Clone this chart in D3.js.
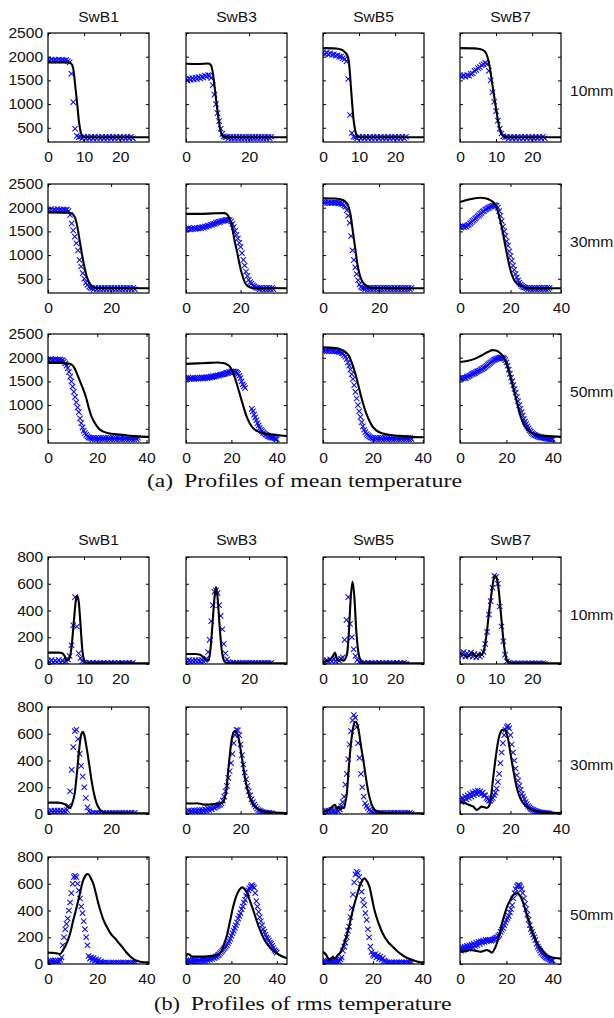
<!DOCTYPE html>
<html>
<head>
<meta charset="utf-8">
<script src="https://cdn.jsdelivr.net/npm/d3@7"></script>
<style>
  html, body { margin: 0; padding: 0; background: #fff; }
  svg { display: block; }
</style>
</head>
<body>
<svg id="fig" width="614" height="1018"></svg>
<script>
// ---- categories and labels ----
const burners = ["SwB1", "SwB3", "SwB5", "SwB7"];
const heights = ["10mm", "30mm", "50mm"];
const meanYTicks = [500, 1000, 1500, 2000, 2500];
const rmsYTicks = [0, 200, 400, 600, 800];
const meanYRange = [200, 2500];
const rmsYRange = [0, 800];
// radial extent of each panel, rows = heights, columns = burners
const radialMax = [[28, 32, 28, 28], [32, 37, 36, 40], [41, 44.5, 40.5, 43.5]];
const radialTicks = [
  [[0, 10, 20], [0, 20], [0, 10, 20], [0, 10, 20]],
  [[0, 20], [0, 20], [0, 20], [0, 20, 40]],
  [[0, 20, 40], [0, 20, 40], [0, 20, 40], [0, 20, 40]]
];

// ---- measurement stations (radial position, mm) ----
const probeX = [0,0.5,1,1.5,2,2.5,3,3.5,4,4.5,5,5.5,6,6.5,7,7.5,8,8.5,9,9.5,
  10,10.5,11,11.5,12,12.5,13,13.5,14,14.5,15,15.5,16,16.5,17,17.5,18,18.5,19,19.5,
  20,20.5,21,21.5,22,22.5,23,23.5,24,24.5,25,25.5,26,26.5,27,27.5,28,28.5,29,29.5,
  30,30.5,31,31.5,32,32.5,33,33.5,34,34.5,35,35.5,36,36.5,37,37.5,38,38.5,39,39.5,40];

// ---- measured mean temperature (K) at probeX ----
const meanMeas10 = [
  [1940,1920,1940,1920,1935,1920,1940,1925,1935,1920,1930,1910,1880,1640,1040,480,330,300,310,280,
   310,280,310,280,310,280,310,280,310,280,310,280,310,280,310,280,310,280,310,280,
   310,280,310,280,310,280,310,280],
  [1530,1500,1540,1510,1550,1520,1560,1530,1570,1540,1580,1560,1600,1580,1610,1600,1550,1400,1200,1000,
   810,640,480,370,320,300,310,280,310,280,310,280,310,280,310,280,310,280,310,280,
   310,280,310,280,310,280,310,280,310,280,310,280,310,280,310],
  [2090,2060,2080,2050,2070,2040,2050,2020,2030,2000,2000,1970,1950,1900,1530,770,390,310,300,280,
   310,280,310,280,310,280,310,280,310,280,310,280,310,280,310,280,310,280,310,280,
   310,280,310,280,310,280,310],
  [1610,1580,1600,1580,1610,1600,1640,1650,1700,1720,1760,1780,1820,1840,1870,1850,1700,1500,1250,1050,
   850,650,480,380,320,300,310,280,310,280,310,280,310,280,310,280,310,280,310,280,
   310,280,310,280,310,280,310,280]
];
const meanMeas30 = [
  [1960,1940,1970,1940,1960,1940,1970,1950,1960,1940,1960,1950,1960,1930,1850,1670,1520,1390,1250,1100,
   900,760,620,500,420,370,330,310,300,280,310,280,310,280,310,280,310,280,310,280,
   310,280,310,280,310,280,310,280,310,280,310,280,310,280,310,280],
  [1560,1540,1570,1540,1560,1550,1570,1550,1570,1560,1580,1570,1590,1580,1600,1600,1620,1620,1640,1640,
   1660,1660,1680,1690,1700,1700,1720,1720,1730,1740,1740,1745,1740,1710,1660,1590,1510,1430,1350,1260,
   1170,1040,900,780,650,560,480,430,400,360,340,320,310,300,280,310,280,310,280,310,
   280,310,280,310,280],
  [2120,2100,2120,2100,2120,2100,2110,2100,2110,2100,2110,2090,2100,2080,2080,2050,2020,1950,1830,1680,
   1400,1100,900,740,600,470,380,330,310,300,280,310,280,310,280,310,280,310,280,310,
   280,310,280,310,280,310,280,310,280,310,280,310,280,310,280,310,280,310,280,310,
   280,310,280,310],
  [1600,1580,1610,1590,1610,1600,1630,1640,1670,1690,1720,1740,1770,1790,1820,1840,1870,1890,1920,1930,
   1960,1970,1990,2000,2020,2030,2040,2050,2050,2040,2000,1930,1830,1720,1600,1500,1400,1290,1200,1080,
   980,880,780,690,600,530,470,420,380,350,330,320,310,300,280,310,280,310,280,310,
   280,310,280,310,280,310,280,310,280,310,280,310]
];
const meanMeas50 = [
  [1960,1940,1970,1950,1960,1940,1970,1950,1960,1950,1960,1940,1950,1920,1880,1830,1780,1700,1600,1500,
   1390,1280,1170,1060,950,850,720,620,530,460,410,370,340,320,310,300,280,310,280,310,
   280,310,280,310,280,310,280,310,280,310,280,310,280,310,280,310,280,310,280,310,
   280,310,280,310,280,310,280,310,280,310,280,310,280,310],
  [1570,1550,1580,1550,1570,1550,1580,1550,1570,1560,1580,1560,1580,1560,1580,1560,1580,1570,1590,1570,
   1590,1580,1600,1590,1610,1600,1620,1610,1630,1620,1640,1640,1650,1650,1660,1670,1680,1680,1700,1690,
   1710,1700,1710,1700,1700,1680,1660,1620,1570,1500,1440,1400,1360,null,null,null,null,null,920,870,
   800,740,680,620,570,520,480,450,420,400,380,370,350,340,330,320,310,310,300,290,
   280],
  [2160,2140,2160,2140,2160,2140,2160,2140,2150,2140,2150,2130,2140,2120,2120,2100,2090,2060,2020,1970,
   1900,1830,1750,1650,1550,1420,1280,1140,1000,870,750,640,550,480,430,390,360,340,320,310,
   300,280,310,280,310,280,310,280,310,280,310,280,310,280,310,280,310,280,310,280,
   310,280,310,280,310,280,310,280,310,280,310,280],
  [1570,1550,1580,1560,1580,1570,1600,1600,1620,1630,1650,1660,1670,1680,1700,1710,1720,1730,1750,1760,
   1780,1790,1810,1830,1850,1870,1890,1910,1930,1950,1960,1970,1980,1990,2000,2000,2000,1990,1980,1950,
   1900,1830,1750,1660,1580,1500,1420,1340,1260,1170,1080,1000,920,850,780,710,650,600,550,510,
   470,440,410,390,370,360,350,340,330,320,320,310,310,300,300,290,290,280,280,290,
   280]
];

// ---- measured rms temperature (K) at probeX ----
const rmsMeas10 = [
  [25,15,30,10,25,15,30,10,25,15,20,35,60,140,290,500,280,80,45,20,
   10,8,2,8,2,8,2,8,2,8,2,8,2,8,2,8,2,8,2,8,
   2,8,2,8,2,8,2,8],
  [25,15,30,12,28,15,30,15,28,18,30,20,30,40,90,180,320,440,540,550,
   530,440,360,260,150,80,35,15,8,2,8,2,8,2,8,2,8,2,8,2,
   8,2,8,2,8,2,8,2,8,2,8,2,8,2,8],
  [25,10,30,15,35,20,40,20,35,25,40,50,180,330,500,300,200,110,60,30,
   15,8,2,8,2,8,2,8,2,8,2,8,2,8,2,8,2,8,2,8,
   2,8,2,8,2,8,2],
  [80,60,90,55,80,60,85,55,75,50,70,55,70,90,150,240,370,470,570,660,
   650,600,430,280,170,70,20,8,6,2,6,2,6,2,6,2,6,2,6,2,
   6,2,6,2,6,2,6,2]
];
const rmsMeas30 = [
  [20,10,25,10,25,12,25,12,25,10,25,15,30,60,170,330,500,620,630,560,
   450,360,280,200,120,50,20,8,2,8,2,8,2,8,2,8,2,8,2,8,
   2,8,2,8,2,8,2,8,2,8,2,8,2,8,2,8],
  [20,10,25,12,25,12,28,15,28,15,30,18,30,20,35,25,40,30,45,35,
   50,45,55,60,65,70,80,100,130,170,210,270,320,380,450,530,590,630,625,590,
   520,440,370,310,260,210,170,140,110,90,70,55,40,30,25,20,15,12,8,10,
   5,8,4,6],
  [20,8,25,10,25,12,30,15,30,15,30,20,35,60,90,130,220,300,410,520,
   620,700,740,720,650,530,420,300,200,130,80,60,45,30,20,15,8,2,8,2,
   8,2,8,2,8,2,8,2,8,2,8,2,8,2,8,2,8,2,8,2,
   8,2,8,2],
  [110,90,120,100,130,110,140,120,150,130,160,140,170,150,175,155,170,150,160,140,
   140,120,110,100,100,110,120,140,160,190,240,300,380,460,530,590,630,650,660,640,
   590,520,460,400,340,290,250,210,180,150,130,110,90,75,60,50,40,35,30,25,
   22,18,15,12,10,8,10,6,8,5,6,4]
];
const rmsMeas50 = [
  [20,10,25,12,25,12,25,15,25,15,30,50,140,200,260,300,340,400,460,530,
   600,650,660,650,600,550,490,430,380,320,260,200,140,60,40,50,30,45,25,35,
   15,30,10,20,8,10,2,10,2,10,2,10,2,10,2,10,2,10,2,10,
   2,10,2,10,2,10,2,10,2,10,2,10],
  [25,10,28,12,28,15,30,15,30,18,32,18,32,20,35,22,38,25,40,28,
   42,32,45,38,50,45,55,55,65,70,80,90,100,110,120,130,140,155,170,190,
   210,230,250,270,290,310,340,360,380,410,430,460,480,510,530,550,565,580,590,580,
   570,530,470,430,390,350,320,290,260,240,220,200,190,175,160,150,135,120,105,95,
   85],
  [20,8,25,10,25,12,28,12,28,15,30,15,30,20,35,50,100,130,160,200,
   250,280,350,420,520,610,670,690,680,650,600,540,480,440,380,330,260,200,130,90,
   70,60,75,50,65,40,55,35,45,25,20,12,3,12,3,12,3,12,3,12,
   3,12,3,12,3,12,3,12,3,12,3,12],
  [120,100,125,105,130,110,135,115,140,120,145,125,150,135,160,140,165,150,170,160,
   175,165,180,170,180,175,180,175,180,185,190,195,200,210,220,240,255,270,290,310,
   330,345,360,385,410,440,490,530,560,580,590,590,580,560,530,490,450,410,370,330,
   290,260,240,220,200,180,150,130,115,100,85,75,65,58,50,45,40,35,30,28,
   25]
];

// ---- simulated profiles, [r, T] pairs ----
const meanSim10 = [
  [[0,1880],[5,1880],[6,1870],[6.6,1840],[7.1,1700],[7.6,1350],[8.1,1000],[8.6,620],[9.1,400],[9.6,320],[10.5,300],[28,300]],
  [[0,1850],[4,1845],[7,1855],[7.8,1830],[8.4,1700],[9,1400],[9.7,1000],[10.4,650],[11,420],[11.8,310],[13,300],[32,300]],
  [[0,2180],[3,2175],[5,2150],[6,2100],[6.8,2020],[7.3,1800],[7.7,1400],[8.1,1000],[8.5,650],[9,420],[9.6,320],[10.5,300],[28,300]],
  [[0,2180],[4,2175],[6,2150],[7,2100],[7.6,2000],[8.2,1800],[8.8,1500],[9.4,1200],[10,900],[10.6,620],[11.2,430],[12,330],[13,300],[28,300]]
];
const meanSim30 = [
  [[0,1900],[6,1895],[7.5,1880],[8.5,1800],[9.3,1600],[10,1320],[10.7,1040],[11.5,760],[12.3,540],[13.2,400],[14.2,330],[15.5,305],[32,300]],
  [[0,1870],[5,1870],[10,1880],[14,1885],[15,1860],[16,1760],[17,1560],[17.8,1300],[18.6,1100],[19.5,840],[20.5,600],[21.5,430],[22.7,340],[24.5,305],[37,300]],
  [[0,2200],[4,2195],[6,2180],[8,2130],[9,2040],[9.8,1850],[10.5,1560],[11.4,1180],[12.3,800],[13.2,560],[14.3,420],[15.6,350],[17,310],[36,300]],
  [[0,2120],[2,2150],[4,2180],[6,2200],[8,2210],[10,2200],[12,2160],[13.5,2100],[14.5,2000],[15.5,1820],[16.5,1600],[17.5,1320],[18.5,1040],[19.5,790],[20.5,590],[21.5,470],[23,380],[24.5,340],[27,305],[40,300]]
];
const meanSim50 = [
  [[0,1890],[5,1890],[8,1880],[9.5,1860],[10.5,1800],[11.7,1670],[13,1500],[14.4,1320],[15.5,1150],[16.4,970],[17.5,780],[19,620],[20.5,510],[22.5,440],[25,400],[28,385],[32,360],[36,340],[41,330]],
  [[0,1870],[5,1880],[10,1890],[14,1900],[16,1890],[18,1860],[19.5,1800],[21,1650],[22.3,1460],[23.4,1280],[24.5,1100],[25.6,920],[26.7,760],[28,620],[29.6,510],[31.5,450],[34,405],[37,385],[40,370],[44.5,345]],
  [[0,2220],[4,2210],[7,2180],[9,2120],[10.5,2030],[11.5,1900],[12.4,1760],[13.3,1600],[14.3,1390],[15.3,1180],[16.3,990],[17.3,830],[18.5,680],[19.9,545],[21.5,460],[24,400],[27,370],[30.5,350],[35,330],[40.5,320]],
  [[0,1910],[3,1930],[6,1970],[9,2040],[12,2120],[14,2160],[15.5,2150],[17,2110],[18.5,2030],[19.8,1900],[20.8,1760],[21.7,1600],[22.8,1390],[23.9,1180],[25,960],[26.1,760],[27.5,590],[29,480],[31,410],[33.5,370],[37,350],[40,340],[43.5,330]]
];
const rmsSim10 = [
  [[0,85],[3,85],[4,80],[4.6,60],[5.2,25],[5.8,35],[6.5,120],[7.2,330],[7.7,470],[8.1,510],[8.5,470],[9,300],[9.5,110],[10,30],[10.6,8],[12,5],[28,5]],
  [[0,75],[3,75],[4.5,70],[5.5,50],[6.5,25],[7.2,30],[7.8,120],[8.4,300],[9,490],[9.5,575],[10,500],[10.6,300],[11.2,130],[11.8,40],[12.5,12],[13.5,5],[32,5]],
  [[0,15],[1,20],[2,35],[2.8,60],[3.3,85],[3.8,45],[4.3,25],[5,35],[5.6,25],[6.2,40],[6.7,80],[7.2,250],[7.7,500],[8.2,615],[8.7,500],[9.2,260],[9.7,110],[10.3,35],[11,12],[12,5],[28,5]],
  [[0,80],[1,70],[2,55],[2.8,70],[3.3,85],[4,65],[4.6,55],[5.3,75],[6,70],[6.7,110],[7.4,230],[8.1,400],[8.8,540],[9.3,630],[9.7,660],[10.2,640],[10.7,560],[11.2,420],[11.7,270],[12.3,120],[12.9,35],[13.8,10],[15,5],[28,5]]
];
const rmsSim30 = [
  [[0,85],[3,85],[4.5,80],[5.5,70],[6.5,50],[7,45],[7.7,80],[8.5,160],[9.3,340],[10.1,530],[10.6,600],[11,615],[11.5,590],[12.2,500],[13,380],[13.8,250],[14.6,150],[15.4,80],[16.4,35],[17.5,12],[19,5],[32,5]],
  [[0,80],[2,78],[4,80],[6,72],[8,70],[10,75],[12.3,80],[13.6,85],[14.3,130],[14.9,200],[15.5,330],[16.1,450],[16.7,550],[17.3,605],[17.9,620],[18.5,605],[19.2,575],[20.1,470],[21,350],[21.9,240],[22.9,155],[24.1,85],[25.8,45],[27.7,25],[29.7,15],[32.8,10],[37,8]],
  [[0,15],[1,20],[2,30],[3,50],[4.3,68],[5,40],[5.6,55],[6.3,35],[7,50],[7.5,45],[8,90],[8.5,155],[9,290],[9.6,450],[10.2,570],[10.8,650],[11.3,685],[11.8,690],[12.3,665],[12.9,600],[13.6,500],[14.4,400],[15.3,270],[16.2,160],[17.2,80],[18.5,30],[20,15],[22,8],[36,5]],
  [[0,90],[2,80],[4,65],[5.3,55],[6,40],[6.6,30],[7.5,40],[8.6,55],[9.6,50],[10.6,45],[11.3,55],[11.9,80],[12.5,160],[13.2,280],[14.2,430],[15.2,555],[16,610],[16.8,630],[17.8,630],[18.5,600],[19.1,555],[20,450],[21.1,330],[22.1,230],[23.1,155],[24.5,95],[26.4,55],[28.5,30],[31.7,17],[35,10],[40,8]]
];
const rmsSim50 = [
  [[0,85],[2,83],[4,78],[5,75],[6,100],[7.6,155],[9,230],[10.3,330],[11.7,430],[13,530],[14,610],[15,655],[15.8,672],[16.4,671],[17.4,640],[18.4,600],[19.4,530],[20.4,455],[21.5,385],[22.5,330],[23.8,280],[25.2,235],[26.2,210],[27.2,192],[28.6,160],[30,130],[31.7,90],[33.3,58],[35.3,30],[37.4,17],[41,10]],
  [[0,55],[0.7,75],[1.5,72],[2.5,55],[4,55],[6,55],[8,55],[10,58],[12,62],[14,70],[15,80],[16,110],[17,160],[17.9,205],[19.4,320],[20.8,430],[22,500],[23,540],[24,565],[24.8,573],[25.8,560],[26.7,540],[28.2,470],[29.6,405],[31.1,325],[32.6,255],[34,200],[35.5,155],[37.5,115],[40,80],[42,60],[44.5,43]],
  [[0,90],[1,75],[2,45],[2.8,30],[3.5,45],[4,55],[4.6,40],[5.3,50],[6,70],[6.7,80],[8,130],[9.4,205],[10.7,300],[12,405],[13.4,500],[14.7,580],[15.7,625],[16.6,640],[17.6,620],[18.6,580],[19.6,495],[20.6,405],[22.2,310],[23.9,230],[25.9,170],[27.9,130],[29.8,95],[31.8,67],[33.8,45],[35.8,30],[38,17],[40.5,10]],
  [[0,92],[2,95],[4.3,105],[6.5,100],[8.7,92],[10.2,98],[11.6,105],[12.8,95],[13.8,85],[14.8,110],[15.9,155],[17,225],[18.1,305],[19.2,370],[20.3,430],[21.4,470],[22.5,505],[23.7,525],[24.9,530],[25.8,510],[26.8,478],[27.9,420],[29,355],[30.4,280],[31.9,205],[33.3,155],[34.8,118],[36.5,80],[38.4,55],[41,45],[43.5,40]]
];

// ---- layout ----
const svg = d3.select("#fig");
const panelW = 101;
const colLeft = [48, 186, 323, 460];
const meanTop = [33, 184, 334], meanH = 109;
const rmsTop = [557, 707, 857], rmsH = 107;
const sansFont = "'Liberation Sans', Arial, Helvetica, sans-serif";
const serifFont = "'Liberation Serif', 'Times New Roman', serif";
const textSize = 14.2, textStretch = 1.1;
let clipCount = 0;

function label(x, y, s, anchor) {
  svg.append("text")
    .attr("transform", `translate(${x},${y}) scale(${textStretch},1)`)
    .attr("text-anchor", anchor)
    .attr("font-family", sansFont)
    .attr("font-size", textSize)
    .attr("fill", "#111")
    .text(s);
}

function styleAxis(g, showText) {
  g.select(".domain").remove();
  g.selectAll(".tick line").attr("stroke", "#000").attr("stroke-width", 1);
  g.selectAll(".tick text")
    .attr("font-family", sansFont)
    .attr("font-size", textSize)
    .attr("fill", "#111")
    .attr("transform", `scale(${textStretch},1)`);
  if (!showText) g.selectAll(".tick text").remove();
}

function panel(x0, y0, h, xMax, xTicks, yDomain, yTicks, sim, meas, showY) {
  const x = d3.scaleLinear().domain([0, xMax]).range([x0, x0 + panelW]);
  const y = d3.scaleLinear().domain(yDomain).range([y0 + h, y0]);
  const id = "clip" + (clipCount++);
  svg.append("clipPath").attr("id", id)
    .append("rect").attr("x", x0).attr("y", y0).attr("width", panelW).attr("height", h);

  const plot = svg.append("g").attr("clip-path", `url(#${id})`);

  // measured points, drawn as crosses
  const pts = meas.map((v, i) => [probeX[i], v]).filter(d => d[1] !== null);
  const s = 2.7;
  plot.append("g")
    .selectAll("path").data(pts).join("path")
    .attr("d", d => `M${x(d[0]) - s},${y(d[1]) - s}L${x(d[0]) + s},${y(d[1]) + s}M${x(d[0]) - s},${y(d[1]) + s}L${x(d[0]) + s},${y(d[1]) - s}`)
    .attr("stroke", "#0a0aff")
    .attr("stroke-width", 1.05)
    .attr("fill", "none");

  // simulation line
  const line = d3.line().x(d => x(d[0])).y(d => y(d[1])).curve(d3.curveMonotoneX);
  plot.append("path").datum(sim)
    .attr("d", line)
    .attr("fill", "none")
    .attr("stroke", "#000")
    .attr("stroke-width", 2.1)
    .attr("stroke-linejoin", "round");

  // axes with inward ticks
  svg.append("g").attr("transform", `translate(0,${y0 + h})`)
    .call(d3.axisBottom(x).tickValues(xTicks).tickSize(-3).tickPadding(9.5).tickFormat(d3.format("d")))
    .call(g => styleAxis(g, true));
  svg.append("g").attr("transform", `translate(0,${y0})`)
    .call(d3.axisTop(x).tickValues(xTicks).tickSize(-3).tickFormat(() => ""))
    .call(g => styleAxis(g, false));
  svg.append("g").attr("transform", `translate(${x0},0)`)
    .call(d3.axisLeft(y).tickValues(yTicks).tickSize(-3).tickPadding(4.4).tickFormat(d3.format("d")))
    .call(g => styleAxis(g, showY));
  svg.append("g").attr("transform", `translate(${x0 + panelW},0)`)
    .call(d3.axisRight(y).tickValues(yTicks).tickSize(-3).tickFormat(() => ""))
    .call(g => styleAxis(g, false));

  // frame
  svg.append("rect")
    .attr("x", x0).attr("y", y0).attr("width", panelW).attr("height", h)
    .attr("fill", "none").attr("stroke", "#000").attr("stroke-width", 1.2);
}

const meanMeas = [meanMeas10, meanMeas30, meanMeas50];
const meanSim = [meanSim10, meanSim30, meanSim50];
const rmsMeas = [rmsMeas10, rmsMeas30, rmsMeas50];
const rmsSim = [rmsSim10, rmsSim30, rmsSim50];

heights.forEach((hl, r) => {
  burners.forEach((b, c) => {
    panel(colLeft[c], meanTop[r], meanH, radialMax[r][c], radialTicks[r][c],
          meanYRange, meanYTicks, meanSim[r][c], meanMeas[r][c], c === 0);
    panel(colLeft[c], rmsTop[r], rmsH, radialMax[r][c], radialTicks[r][c],
          rmsYRange, rmsYTicks, rmsSim[r][c], rmsMeas[r][c], c === 0);
  });
  label(570, meanTop[r] + meanH / 2 + 8.8, hl, "start");
  label(570, rmsTop[r] + rmsH / 2 + 9.3, hl, "start");
});

burners.forEach((b, c) => {
  label(colLeft[c] + panelW / 2, meanTop[0] - 11.3, b, "middle");
  label(colLeft[c] + panelW / 2, rmsTop[0] - 12, b, "middle");
});

// sub-figure captions
function caption(xTag, xText, y, tag, text, tagLen, textLen) {
  svg.append("text").attr("x", xTag).attr("y", y)
    .attr("font-family", serifFont).attr("font-size", 18.5).attr("fill", "#111")
    .attr("textLength", tagLen).attr("lengthAdjust", "spacingAndGlyphs")
    .text(tag);
  svg.append("text").attr("x", xText).attr("y", y)
    .attr("font-family", serifFont).attr("font-size", 18.5).attr("fill", "#111")
    .attr("textLength", textLen).attr("lengthAdjust", "spacingAndGlyphs")
    .text(text);
}
caption(147, 184, 487, "(a)", "Profiles of mean temperature", 26, 278);
caption(154, 190.7, 1010, "(b)", "Profiles of rms temperature", 26, 261);
</script>
</body>
</html>
